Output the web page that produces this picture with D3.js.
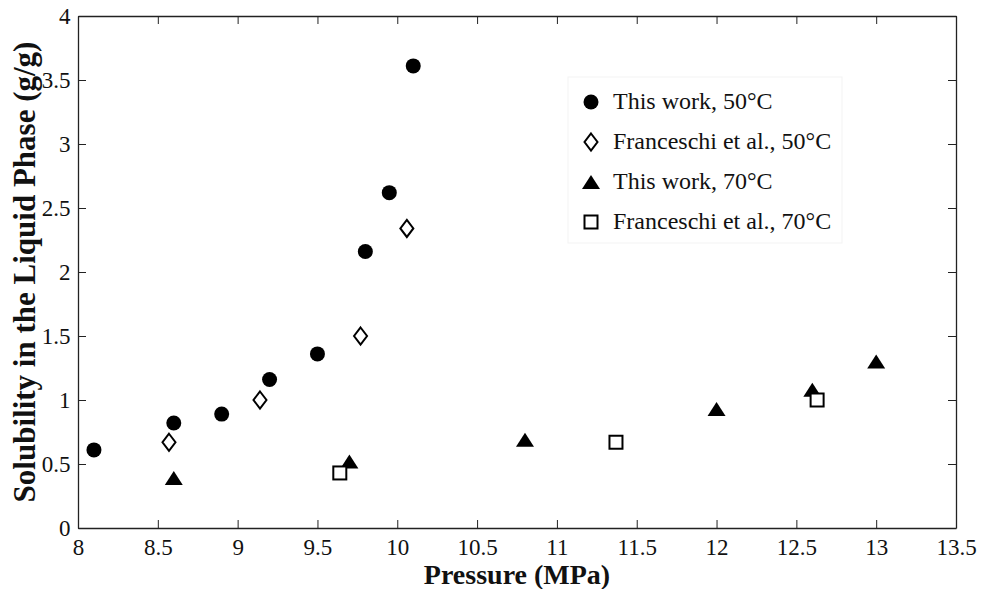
<!DOCTYPE html>
<html>
<head>
<meta charset="utf-8">
<script src="https://cdn.jsdelivr.net/npm/d3@7"></script>
<style>
  html, body { margin: 0; padding: 0; background: #fff; }
  svg { display: block; }
  text { font-family: "Liberation Serif", "Times New Roman", serif; fill: #111; }
</style>
</head>
<body>
<svg id="chart" width="983" height="589"></svg>
<script>
// Solubility measurements (pressure in MPa, solubility in g/g)
const thisWork50P = [8.1, 8.6, 8.9, 9.2, 9.5, 9.8, 9.95, 10.1];
const thisWork50S = [0.61, 0.82, 0.89, 1.16, 1.36, 2.16, 2.62, 3.61];

const franceschi50P = [8.57, 9.14, 9.77, 10.06];
const franceschi50S = [0.67, 1.0, 1.5, 2.34];

const thisWork70P = [8.6, 9.7, 10.8, 12.0, 12.6, 13.0];
const thisWork70S = [0.39, 0.52, 0.69, 0.93, 1.08, 1.30];

const franceschi70P = [9.64, 11.37, 12.63];
const franceschi70S = [0.43, 0.67, 1.0];

const xTicks = [8, 8.5, 9, 9.5, 10, 10.5, 11, 11.5, 12, 12.5, 13, 13.5];
const yTicks = [0, 0.5, 1, 1.5, 2, 2.5, 3, 3.5, 4];

const seriesNames = ["This work, 50°C", "Franceschi et al., 50°C", "This work, 70°C", "Franceschi et al., 70°C"];

const serif = '"Liberation Serif", "Times New Roman", serif';
const svg = d3.select("#chart");
const plot = { left: 78, right: 956, top: 16, bottom: 528 };

const x = d3.scaleLinear().domain([8, 13.5]).range([plot.left, plot.right]);
const y = d3.scaleLinear().domain([0, 4]).range([plot.bottom, plot.top]);

const fmt = d => String(d);
const tickLen = 8;

// Axes with inward ticks on all four sides
const axisColor = "#222";
const gB = svg.append("g").attr("transform", `translate(0,${plot.bottom})`)
  .call(d3.axisBottom(x).tickValues(xTicks).tickFormat(fmt).tickSizeInner(-tickLen).tickSizeOuter(0).tickPadding(13));
const gT = svg.append("g").attr("transform", `translate(0,${plot.top})`)
  .call(d3.axisTop(x).tickValues(xTicks).tickFormat("").tickSizeInner(-tickLen).tickSizeOuter(0));
const gL = svg.append("g").attr("transform", `translate(${plot.left},0)`)
  .call(d3.axisLeft(y).tickValues(yTicks).tickFormat(fmt).tickSizeInner(-tickLen).tickSizeOuter(0).tickPadding(12));
const gR = svg.append("g").attr("transform", `translate(${plot.right},0)`)
  .call(d3.axisRight(y).tickValues(yTicks).tickFormat("").tickSizeInner(-tickLen).tickSizeOuter(0));

[gB, gT, gL, gR].forEach(g => {
  g.attr("font-family", serif).attr("font-size", 23);
  g.select(".domain").attr("stroke", axisColor).attr("stroke-width", 1.3);
  g.selectAll(".tick line").attr("stroke", axisColor).attr("stroke-width", 1);
  g.selectAll(".tick text").style("font-family", serif)
    .style("font-size", "23px").attr("fill", "#111");
});
gB.selectAll(".tick text").attr("dy", "0.6em");
gL.selectAll(".tick text").attr("dx", "0.2em");

// Axis titles
svg.append("text")
  .attr("x", (plot.left + plot.right) / 2)
  .attr("y", 584)
  .attr("text-anchor", "middle")
  .style("font-size", "28px").style("font-weight", "bold")
  .text("Pressure (MPa)");

svg.append("text")
  .attr("transform", `translate(35,${(plot.top + plot.bottom) / 2}) rotate(-90)`)
  .attr("text-anchor", "middle")
  .style("font-size", "31px").style("font-weight", "bold")
  .text("Solubility in the Liquid Phase (g/g)");

// Marker shapes
function circle(g) {
  g.append("circle").attr("r", 7.5).attr("fill", "#000");
}
function diamond(g) {
  const w = 6.5, h = 8.5;
  g.append("path").attr("d", `M0,${-h}L${w},0L0,${h}L${-w},0Z`)
    .attr("fill", "#fff").attr("stroke", "#000").attr("stroke-width", 2);
}
function triangle(g) {
  const w = 9, h = 7;
  g.append("path").attr("d", `M0,${-h}L${w},${h}L${-w},${h}Z`).attr("fill", "#000");
}
function square(g) {
  const s = 6.5;
  g.append("rect").attr("x", -s).attr("y", -s).attr("width", 2 * s).attr("height", 2 * s)
    .attr("fill", "#fff").attr("stroke", "#000").attr("stroke-width", 2);
}

const series = [
  { p: thisWork50P, s: thisWork50S, draw: circle },
  { p: franceschi50P, s: franceschi50S, draw: diamond },
  { p: thisWork70P, s: thisWork70S, draw: triangle },
  { p: franceschi70P, s: franceschi70S, draw: square }
];

series.forEach(ser => {
  const pts = ser.p.map((p, i) => ({ p, s: ser.s[i] }));
  svg.append("g").selectAll("g").data(pts).join("g")
    .attr("transform", d => `translate(${x(d.p)},${y(d.s)})`)
    .each(function () { ser.draw(d3.select(this)); });
});

// Legend
const legend = svg.append("g").attr("transform", "translate(568,77)");
legend.append("rect").attr("width", 274).attr("height", 166)
  .attr("fill", "#fff").attr("stroke", "#f3f3f3").attr("stroke-width", 1);
seriesNames.forEach((name, i) => {
  const row = legend.append("g").attr("transform", `translate(0,${25 + i * 40})`);
  const m = row.append("g").attr("transform", "translate(23,0)");
  series[i].draw(m);
  row.append("text").attr("x", 45).attr("y", 7)
    .style("font-size", "24px").text(name);
});
</script>
</body>
</html>
